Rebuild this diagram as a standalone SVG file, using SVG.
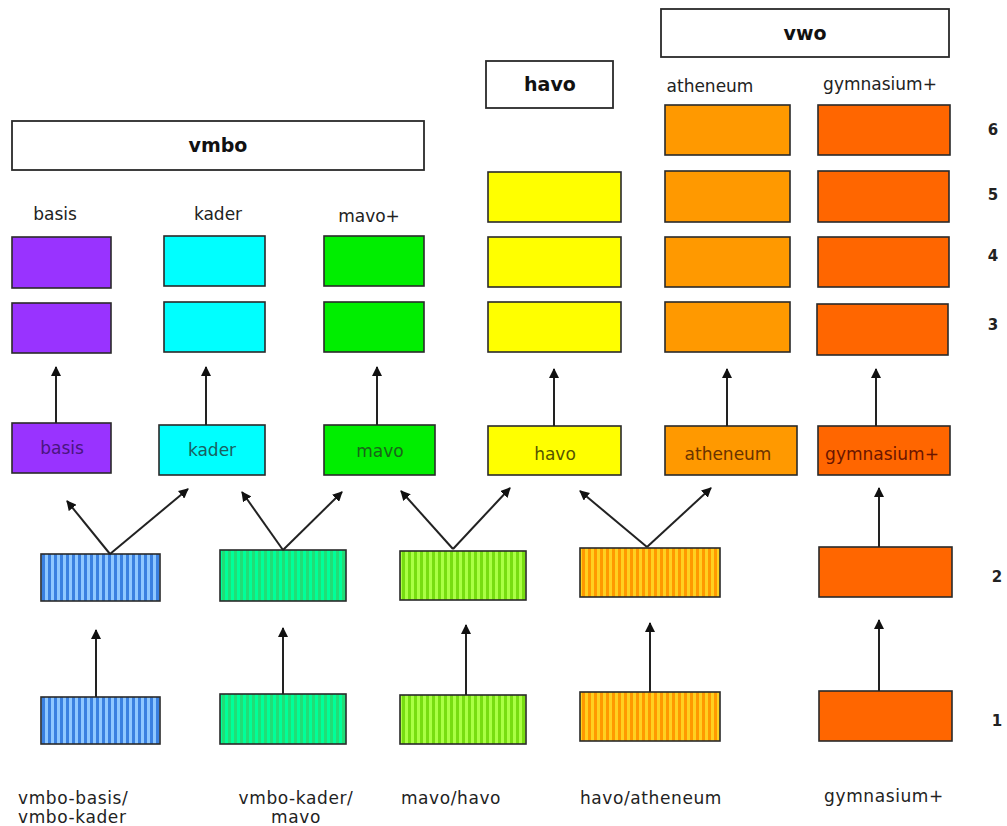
<svg xmlns="http://www.w3.org/2000/svg" width="1007" height="826" viewBox="0 0 1007 826">
<defs>
  <style>
    .box{stroke:#2a2a2a;stroke-width:1.6}
    .hdr{fill:#fff;stroke:#2a2a2a;stroke-width:1.8}
    .t{font-family:"DejaVu Sans",Verdana,sans-serif;font-size:17px;fill:#222;text-anchor:middle}
    .tb{font-family:"DejaVu Sans",Verdana,sans-serif;font-size:19px;font-weight:bold;fill:#111;text-anchor:middle}
    .num{font-family:"DejaVu Sans",Verdana,sans-serif;font-size:15px;font-weight:bold;fill:#222;text-anchor:middle}
    .mid{font-family:"DejaVu Sans",Verdana,sans-serif;font-size:17px;text-anchor:middle}
    .bot{font-family:"DejaVu Sans",sans-serif;font-size:17px;letter-spacing:0.6px;fill:#222}
    .c{stroke:#222;stroke-width:2;fill:none;marker-end:url(#ah)}
    .purple{fill:#9933ff}.cyan{fill:#00ffff}.green{fill:#00ee00}.yellow{fill:#ffff00}.orange{fill:#ff9900}.red{fill:#ff6600}
  </style>
  <marker id="ah" viewBox="0 0 10 10" refX="9" refY="5" markerWidth="10" markerHeight="10" markerUnits="userSpaceOnUse" orient="auto">
    <path d="M0,0 L10,5 L0,10 z" fill="#111"/>
  </marker>
  <pattern id="pBlue" width="6" height="10" patternUnits="userSpaceOnUse">
    <rect width="6" height="10" fill="#3a80e0"/><rect x="3" width="3" height="10" fill="#8fc8ff"/>
  </pattern>
  <pattern id="pGreen" width="6" height="10" patternUnits="userSpaceOnUse">
    <rect width="6" height="10" fill="#22dd77"/><rect x="3" width="3" height="10" fill="#00ff99"/>
  </pattern>
  <pattern id="pLime" width="6" height="10" patternUnits="userSpaceOnUse">
    <rect width="6" height="10" fill="#77dd11"/><rect x="3" width="3" height="10" fill="#aaff44"/>
  </pattern>
  <pattern id="pOrange" width="6" height="10" patternUnits="userSpaceOnUse">
    <rect width="6" height="10" fill="#ff9900"/><rect x="3" width="3" height="10" fill="#ffd020"/>
  </pattern>
</defs>
<rect width="1007" height="826" fill="#fff"/>

<g id="headers">
  <g id="vwo"><rect class="hdr" x="661" y="9" width="288" height="48"/><text class="tb" x="805" y="40">vwo</text></g>
  <g id="havo-hdr"><rect class="hdr" x="486" y="61" width="127" height="47"/><text class="tb" x="550" y="91">havo</text></g>
  <g id="vmbo"><rect class="hdr" x="12" y="121" width="412" height="49"/><text class="tb" x="218" y="152">vmbo</text></g>
</g>

<g id="labels">
  <text class="t" x="55" y="220">basis</text>
  <text class="t" x="218" y="220">kader</text>
  <text class="t" x="369" y="222">mavo+</text>
  <text class="t" x="710" y="92">atheneum</text>
  <text class="t" x="880" y="90">gymnasium+</text>
</g>

<g id="years">
  <text class="num" x="993" y="135">6</text>
  <text class="num" x="993" y="200">5</text>
  <text class="num" x="993" y="261">4</text>
  <text class="num" x="993" y="330">3</text>
  <text class="num" x="997" y="582">2</text>
  <text class="num" x="997" y="726">1</text>
</g>

<g id="col-basis">
  <rect class="box purple" x="12" y="237" width="99" height="51"/>
  <rect class="box purple" x="12" y="303" width="99" height="50"/>
</g>
<g id="col-kader">
  <rect class="box cyan" x="164" y="236" width="101" height="50"/>
  <rect class="box cyan" x="164" y="302" width="101" height="50"/>
</g>
<g id="col-mavo">
  <rect class="box green" x="324" y="236" width="100" height="50"/>
  <rect class="box green" x="324" y="302" width="100" height="50"/>
</g>
<g id="col-havo">
  <rect class="box yellow" x="488" y="172" width="133" height="50"/>
  <rect class="box yellow" x="488" y="237" width="133" height="50"/>
  <rect class="box yellow" x="488" y="302" width="133" height="50"/>
</g>
<g id="col-atheneum">
  <rect class="box orange" x="665" y="105" width="125" height="50"/>
  <rect class="box orange" x="665" y="171" width="125" height="51"/>
  <rect class="box orange" x="665" y="237" width="125" height="50"/>
  <rect class="box orange" x="665" y="302" width="125" height="50"/>
</g>
<g id="col-gymnasium">
  <rect class="box red" x="818" y="105" width="132" height="50"/>
  <rect class="box red" x="818" y="171" width="131" height="51"/>
  <rect class="box red" x="818" y="237" width="131" height="50"/>
  <rect class="box red" x="817" y="304" width="131" height="51"/>
</g>

<g id="mid-basis"><rect class="box purple" x="12" y="423" width="99" height="50"/><text class="mid" x="62" y="454" fill="#4a1580">basis</text></g>
<g id="mid-kader"><rect class="box cyan" x="159" y="425" width="106" height="50"/><text class="mid" x="212" y="456" fill="#1a6060">kader</text></g>
<g id="mid-mavo"><rect class="box green" x="324" y="425" width="111" height="50"/><text class="mid" x="380" y="457" fill="#1a651a">mavo</text></g>
<g id="mid-havo"><rect class="box yellow" x="488" y="426" width="133" height="49"/><text class="mid" x="555" y="460" fill="#555500">havo</text></g>
<g id="mid-atheneum"><rect class="box orange" x="665" y="426" width="132" height="49"/><text class="mid" x="728" y="460" fill="#6a3300">atheneum</text></g>
<g id="mid-gymnasium"><rect class="box red" x="818" y="426" width="132" height="49"/><text class="mid" x="882" y="460" fill="#6a1500">gymnasium+</text></g>

<g id="y2-vmbo"><rect class="box" fill="url(#pBlue)" x="41" y="554" width="119" height="47"/></g>
<g id="y2-kader"><rect class="box" fill="url(#pGreen)" x="220" y="550" width="126" height="51"/></g>
<g id="y2-mavo"><rect class="box" fill="url(#pLime)" x="400" y="551" width="126" height="49"/></g>
<g id="y2-havo"><rect class="box" fill="url(#pOrange)" x="580" y="548" width="140" height="49"/></g>
<g id="y2-gym"><rect class="box red" x="819" y="547" width="133" height="50"/></g>

<g id="y1-vmbo"><rect class="box" fill="url(#pBlue)" x="41" y="697" width="119" height="47"/></g>
<g id="y1-kader"><rect class="box" fill="url(#pGreen)" x="220" y="694" width="126" height="50"/></g>
<g id="y1-mavo"><rect class="box" fill="url(#pLime)" x="400" y="695" width="126" height="49"/></g>
<g id="y1-havo"><rect class="box" fill="url(#pOrange)" x="580" y="692" width="140" height="49"/></g>
<g id="y1-gym"><rect class="box red" x="819" y="691" width="133" height="50"/></g>

<g id="bottom-labels">
  <text class="bot" x="18" y="804">vmbo-basis/</text>
  <text class="bot" x="18" y="823">vmbo-kader</text>
  <text class="bot" x="296" y="804" text-anchor="middle">vmbo-kader/</text>
  <text class="bot" x="296" y="823" text-anchor="middle">mavo</text>
  <text class="bot" x="451" y="804" text-anchor="middle">mavo/havo</text>
  <text class="bot" x="651" y="804" text-anchor="middle">havo/atheneum</text>
  <text class="bot" x="884" y="802" text-anchor="middle">gymnasium+</text>
</g>

<g id="connectors">
  <line class="c" x1="56" y1="423" x2="56" y2="367"/>
  <line class="c" x1="206" y1="425" x2="206" y2="367"/>
  <line class="c" x1="377" y1="425" x2="377" y2="367"/>
  <line class="c" x1="554" y1="426" x2="554" y2="369"/>
  <line class="c" x1="727" y1="426" x2="727" y2="369"/>
  <line class="c" x1="876" y1="426" x2="876" y2="369"/>

  <line class="c" x1="110" y1="554" x2="67" y2="501"/>
  <line class="c" x1="110" y1="554" x2="188" y2="489"/>
  <line class="c" x1="283" y1="550" x2="242" y2="492"/>
  <line class="c" x1="283" y1="550" x2="342" y2="492"/>
  <line class="c" x1="453" y1="549" x2="401" y2="491"/>
  <line class="c" x1="453" y1="549" x2="510" y2="488"/>
  <line class="c" x1="647" y1="547" x2="580" y2="491"/>
  <line class="c" x1="647" y1="547" x2="711" y2="488"/>

  <line class="c" x1="879" y1="547" x2="879" y2="488"/>

  <line class="c" x1="96" y1="697" x2="96" y2="630"/>
  <line class="c" x1="283" y1="694" x2="283" y2="628"/>
  <line class="c" x1="466" y1="695" x2="466" y2="625"/>
  <line class="c" x1="650" y1="692" x2="650" y2="623"/>
  <line class="c" x1="879" y1="691" x2="879" y2="620"/>
</g>
</svg>
